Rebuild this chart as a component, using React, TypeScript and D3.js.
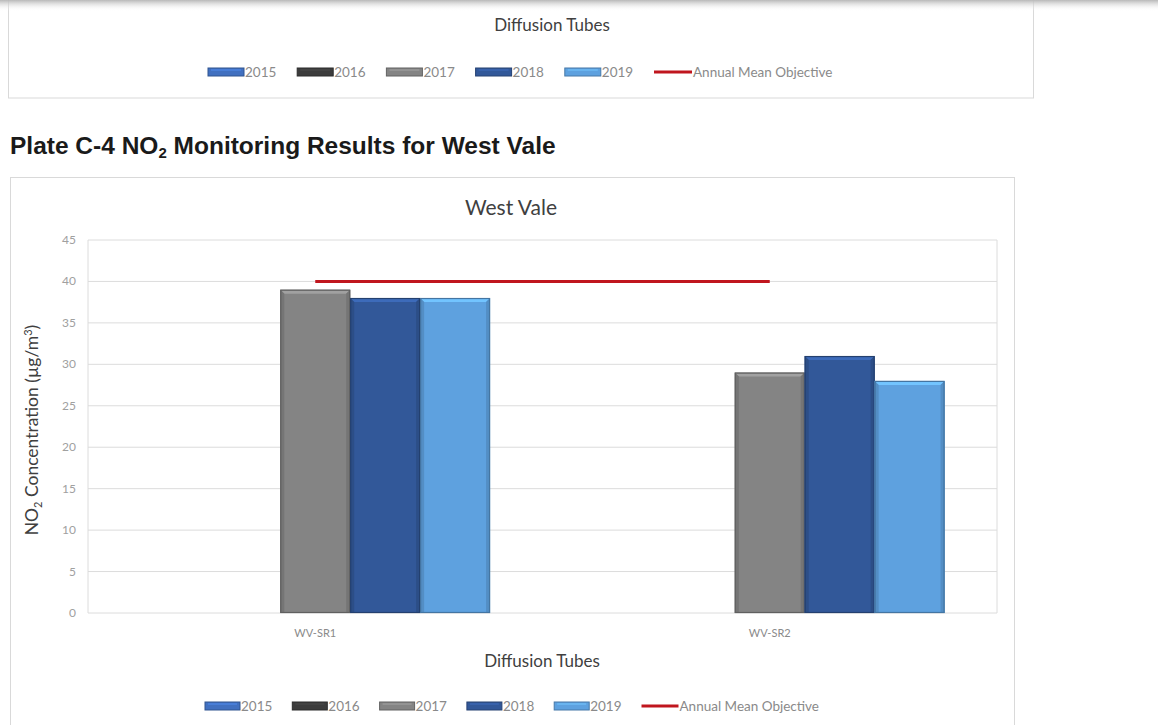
import React from 'react';
import * as d3 from 'd3';

const categories = ['WV-SR1', 'WV-SR2'];
const years = ['2015', '2016', '2017', '2018', '2019'];
const values: (number | null)[][] = [
  [null, null, 39, 38, 38],
  [null, null, 29, 31, 28],
];
const objective = [40, 40];
const yTicks = [0, 5, 10, 15, 20, 25, 30, 35, 40, 45];
const yearColors = ['#4170C0', '#3C3C3C', '#848484', '#325899', '#5EA1DF'];
const objectiveLabel = 'Annual Mean Objective';
const objectiveColor = '#C0161E';

const FONT = 'Lato, "Open Sans", sans-serif';

function Bar({ x, y, w, h, color }: { x: number; y: number; w: number; h: number; color: string }) {
  const c = d3.color(color)!;
  const light = c.brighter(0.55).formatHex();
  const dark = c.darker(0.9).formatHex();
  const side = c.darker(0.35).formatHex();
  const b = 4;
  return (
    <g>
      <rect x={x} y={y} width={w} height={h} fill={color} />
      <polygon points={`${x},${y} ${x + w},${y} ${x + w - b},${y + b} ${x + b},${y + b}`} fill={light} />
      <polygon points={`${x},${y} ${x + b},${y + b} ${x + b},${y + h} ${x},${y + h}`} fill={side} />
      <polygon points={`${x + w},${y} ${x + w - b},${y + b} ${x + w - b},${y + h} ${x + w},${y + h}`} fill={side} />
      <rect x={x + 0.5} y={y + 0.5} width={w - 1} height={h - 1} fill="none" stroke={dark} strokeWidth={1.2} />
    </g>
  );
}

function Legend({ x0, y, step, boxW, lineW, textSize }: { x0: number; y: number; step: number; boxW: number; lineW: number; textSize: number }) {
  return (
    <g>
      {years.map((yr, i) => {
        const x = x0 + i * step;
        const c = d3.color(yearColors[i])!;
        return (
          <g key={yr}>
            <rect x={x} y={y - 4} width={boxW} height={8} fill={yearColors[i]} stroke={c.darker(0.8).formatHex()} strokeWidth={1} />
            <line x1={x + 3} x2={x + boxW - 3} y1={y - 2} y2={y - 2} stroke={c.brighter(0.6).formatHex()} strokeWidth={1} />
            <text x={x + boxW + 1} y={y + 4.5} fontSize={textSize} fill="#8a8a8a" fontFamily={FONT}>{yr}</text>
          </g>
        );
      })}
      <line x1={x0 + 5 * step} x2={x0 + 5 * step + lineW} y1={y} y2={y} stroke={objectiveColor} strokeWidth={3} />
      <text x={x0 + 5 * step + lineW + 1} y={y + 4.5} fontSize={textSize} fill="#8a8a8a" fontFamily={FONT}>{objectiveLabel}</text>
    </g>
  );
}

export default function App() {
  const W = 1158, H = 725;
  const left = 88, right = 997, top = 240, bottom = 613;
  const x = d3.scaleBand<string>().domain(categories).range([left, right]).paddingInner(0).paddingOuter(0);
  const inner = d3.scaleBand<string>().domain(years).range([0, x.bandwidth()]).paddingOuter(0.75).paddingInner(0);
  const y = d3.scaleLinear().domain([0, 45]).range([bottom, top]);
  const line = d3.line<number>()
    .x((_, i) => (x(categories[i])! + x.bandwidth() / 2))
    .y((d) => y(d));

  return (
    <svg width={W} height={H} style={{ position: 'absolute', left: 0, top: 0, background: '#fff' }}>
      <defs>
        <linearGradient id="topShadow" x1="0" y1="0" x2="0" y2="1">
          <stop offset="0" stopColor="#b8b8b8" />
          <stop offset="1" stopColor="#ffffff" stopOpacity={0} />
        </linearGradient>
      </defs>
      <rect x={0} y={0} width={W} height={H} fill="#fff" />

      {/* top (partial) chart */}
      <rect x={8.5} y={-20} width={1025} height={118} fill="#fff" stroke="#d9d9d9" />
      <text x={552} y={31} textAnchor="middle" fontSize={17} fill="#404040" fontFamily={FONT}>Diffusion Tubes</text>
      <Legend x0={208} y={72} step={89.2} boxW={36} lineW={38} textSize={13.5} />
      <rect x={0} y={0} width={W} height={11} fill="url(#topShadow)" />

      {/* heading */}
      <text x={10} y={154} fontSize={24.5} fontWeight="bold" fill="#1a1a1a" fontFamily='"Liberation Sans", Arial, sans-serif'>
        Plate C-4 NO<tspan fontSize={15} dy={4}>2</tspan><tspan dy={-4}> Monitoring Results for West Vale</tspan>
      </text>

      {/* main chart box */}
      <rect x={10.5} y={177.5} width={1004} height={600} fill="#fff" stroke="#d9d9d9" />
      <text x={511} y={215} textAnchor="middle" fontSize={21} fill="#404040" fontFamily={FONT}>West Vale</text>

      {/* grid */}
      {yTicks.map((t) => (
        <g key={t}>
          <line x1={left} x2={right} y1={y(t)} y2={y(t)} stroke="#dcdcdc" strokeWidth={1} />
          <text x={76} y={y(t) + 4} textAnchor="end" fontSize={12} fill="#a0a0a0" fontFamily={FONT}>{t}</text>
        </g>
      ))}
      <line x1={left} x2={left} y1={top} y2={bottom} stroke="#dcdcdc" />
      <line x1={right} x2={right} y1={top} y2={bottom} stroke="#dcdcdc" />

      {/* bars */}
      {categories.map((cat, ci) => (
        <g key={cat}>
          {years.map((yr, yi) => {
            const v = values[ci][yi];
            if (v == null) return null;
            const bx = x(cat)! + inner(yr)!;
            return <Bar key={yr} x={bx} y={y(v)} w={inner.bandwidth()} h={y(0) - y(v)} color={yearColors[yi]} />;
          })}
          <text x={x(cat)! + x.bandwidth() / 2} y={637} textAnchor="middle" fontSize={11} fill="#8a8a8a" fontFamily={FONT}>{cat}</text>
        </g>
      ))}

      {/* objective line */}
      <path d={line(objective)!} fill="none" stroke={objectiveColor} strokeWidth={3} />

      {/* axis titles */}
      <text x={542} y={667} textAnchor="middle" fontSize={17} fill="#404040" fontFamily={FONT}>Diffusion Tubes</text>
      <text transform={`translate(38,430) rotate(-90)`} textAnchor="middle" fontSize={17.5} fill="#404040" fontFamily={FONT}>
        NO<tspan fontSize={11} dy={4}>2</tspan><tspan dy={-4}> Concentration (µg/m</tspan><tspan fontSize={11} dy={-6}>3</tspan><tspan dy={6}>)</tspan>
      </text>

      <Legend x0={205} y={706} step={87.3} boxW={35} lineW={37} textSize={13.5} />
    </svg>
  );
}
